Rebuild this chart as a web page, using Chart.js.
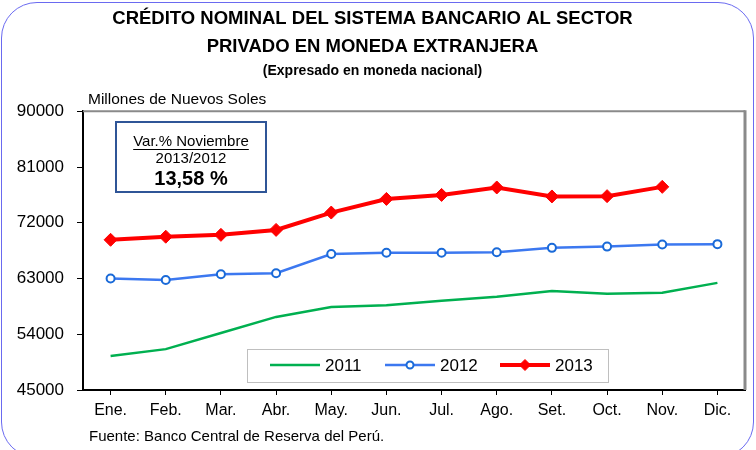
<!DOCTYPE html>
<html>
<head>
<meta charset="utf-8">
<title>Crédito nominal - moneda extranjera</title>
<script src="https://cdn.jsdelivr.net/npm/chart.js@4/dist/chart.umd.min.js"></script>
<style>
    html, body { margin: 0; padding: 0; background: #fff; }
    #wrap { position: relative; width: 756px; height: 450px; overflow: hidden; }
    #wrap canvas { position: absolute; left: 0; top: 0; }
    #frame {
        position: absolute; left: 1px; top: 2px; width: 753px; height: 456px;
        border: 1px solid #6a6af0; border-radius: 36px; box-sizing: border-box;
        pointer-events: none;
    }
</style>
</head>
<body>
<div id="wrap">
    <canvas id="chart" width="756" height="450"></canvas>
    <div id="frame"></div>
</div>
<script>
// Millones de Nuevos Soles
const months = ["Ene.", "Feb.", "Mar.", "Abr.", "May.", "Jun.", "Jul.", "Ago.", "Set.", "Oct.", "Nov.", "Dic."];
const credit2011 = [50500, 51600, 54200, 56800, 58400, 58700, 59400, 60050, 61000, 60550, 60700, 62300];
const credit2012 = [63000, 62750, 63700, 63850, 66950, 67150, 67150, 67250, 67950, 68150, 68500, 68550];
const credit2013 = [69250, 69750, 70050, 70850, 73650, 75850, 76500, 77700, 76250, 76300, 77800, null];
const yTicks = [45000, 54000, 63000, 72000, 81000, 90000];

const titleLines = ["CRÉDITO NOMINAL DEL SISTEMA BANCARIO AL SECTOR", "PRIVADO EN MONEDA EXTRANJERA"];
const subtitleText = "(Expresado en moneda nacional)";
const unitsText = "Millones de Nuevos Soles";
const sourceText = "Fuente: Banco Central de Reserva del Perú.";
const boxLines = ["Var.% Noviembre", "2013/2012", "13,58 %"];

const sans = "'Liberation Sans', Arial, sans-serif";

// gray top/right frame of the plot, then the notes, the info box and the legend
const notesPlugin = {
    id: "notes",
    beforeDatasetsDraw(chart) {
        const ctx = chart.ctx;
        const a = chart.chartArea;
        ctx.save();
        ctx.strokeStyle = "#8a8a8a";
        ctx.lineWidth = 2;
        ctx.beginPath();
        ctx.moveTo(a.left, a.top);
        ctx.lineTo(a.right, a.top);
        ctx.stroke();
        ctx.lineWidth = 3;
        ctx.beginPath();
        ctx.moveTo(a.right, a.top - 1);
        ctx.lineTo(a.right, a.bottom);
        ctx.stroke();
        ctx.restore();
    },
    afterDraw(chart) {
        const ctx = chart.ctx;
        ctx.save();
        ctx.fillStyle = "#000";
        ctx.textBaseline = "middle";

        ctx.font = "15.5px " + sans;
        ctx.textAlign = "left";
        ctx.fillText(unitsText, 88, 100);

        ctx.font = "15px " + sans;
        ctx.fillText(sourceText, 89, 437);

        // info box
        ctx.fillStyle = "#fff";
        ctx.fillRect(116, 122, 150, 70);
        ctx.strokeStyle = "#2f5597";
        ctx.lineWidth = 2;
        ctx.strokeRect(116, 122, 150, 70);
        ctx.fillStyle = "#000";
        ctx.textAlign = "center";
        ctx.font = "15px " + sans;
        ctx.fillText(boxLines[0], 191, 142);
        const w = ctx.measureText(boxLines[0]).width;
        ctx.fillRect(191 - w / 2, 149, w, 1);
        ctx.font = "15px " + sans;
        ctx.fillText(boxLines[1], 191, 159);
        ctx.font = "bold 20px " + sans;
        ctx.fillText(boxLines[2], 191, 179);

        // legend
        ctx.fillStyle = "#fff";
        ctx.fillRect(247, 349, 361, 33);
        ctx.strokeStyle = "#bfbfbf";
        ctx.lineWidth = 1;
        ctx.strokeRect(247.5, 349.5, 361, 33);
        const starts = [270, 385, 500];
        const ly = 365;
        chart.data.datasets.forEach((ds, i) => {
            const x0 = starts[i];
            ctx.strokeStyle = ds.borderColor;
            ctx.lineWidth = ds.borderWidth;
            ctx.beginPath();
            ctx.moveTo(x0, ly);
            ctx.lineTo(x0 + 50, ly);
            ctx.stroke();
            if (ds.pointRadius > 0) {
                ctx.fillStyle = ds.pointBackgroundColor;
                ctx.strokeStyle = ds.pointBorderColor;
                ctx.lineWidth = ds.pointBorderWidth;
                Chart.helpers.drawPoint(ctx, {
                    pointStyle: ds.pointStyle,
                    radius: ds.pointStyle === "rectRot" ? 5.5 : 3.5,
                    borderWidth: ds.pointBorderWidth,
                    rotation: 0
                }, x0 + 25, ly);
            }
            ctx.fillStyle = "#000";
            ctx.textAlign = "left";
            ctx.font = "17px " + sans;
            ctx.fillText(ds.label, x0 + 55, ly + 1);
        });
        ctx.restore();
    }
};

new Chart(document.getElementById("chart"), {
    type: "line",
    data: {
        labels: months,
        datasets: [
            {
                label: "2011",
                data: credit2011,
                borderColor: "#00b050",
                borderWidth: 2.5,
                pointRadius: 0,
                tension: 0
            },
            {
                label: "2012",
                data: credit2012,
                borderColor: "#3c78f0",
                borderWidth: 2.5,
                pointStyle: "circle",
                pointRadius: 4,
                pointBackgroundColor: "#fff",
                pointBorderColor: "#1a6ad8",
                pointBorderWidth: 2,
                tension: 0
            },
            {
                label: "2013",
                data: credit2013,
                borderColor: "#ff0000",
                borderWidth: 4,
                pointStyle: "rectRot",
                pointRadius: 6.5,
                pointBackgroundColor: "#ff0000",
                pointBorderColor: "#ff0000",
                pointBorderWidth: 1,
                tension: 0
            }
        ]
    },
    options: {
        responsive: false,
        animation: false,
        events: [],
        layout: { padding: { left: 0, right: 11, top: 0, bottom: 0 } },
        plugins: {
            legend: { display: false },
            tooltip: { enabled: false },
            title: {
                display: true,
                text: titleLines,
                color: "#000",
                font: { family: sans, size: 18.5, weight: "bold", lineHeight: 1.5 },
                padding: { top: 5, bottom: 0 }
            },
            subtitle: {
                display: true,
                text: subtitleText,
                color: "#000",
                font: { family: sans, size: 14, weight: "bold", lineHeight: 1.2 },
                padding: { top: 2, bottom: 32 }
            }
        },
        scales: {
            x: {
                offset: true,
                grid: { drawOnChartArea: false, tickLength: 5, color: "#000", tickWidth: 1 },
                border: { color: "#000", width: 2 },
                ticks: { font: { family: sans, size: 16 }, color: "#000", padding: 6, maxRotation: 0, autoSkip: false },
                afterFit(scale) { scale.height = 60; }
            },
            y: {
                min: 45000,
                max: 90000,
                afterBuildTicks(scale) { scale.ticks = yTicks.map(v => ({ value: v })); },
                grid: { drawOnChartArea: false, tickLength: 6, color: "#000", tickWidth: 1 },
                border: { color: "#000", width: 2 },
                ticks: {
                    font: { family: sans, size: 17 },
                    color: "#000",
                    padding: 13,
                    callback: value => String(value)
                },
                afterFit(scale) { scale.width = 83; }
            }
        }
    },
    plugins: [notesPlugin]
});
</script>
</body>
</html>
